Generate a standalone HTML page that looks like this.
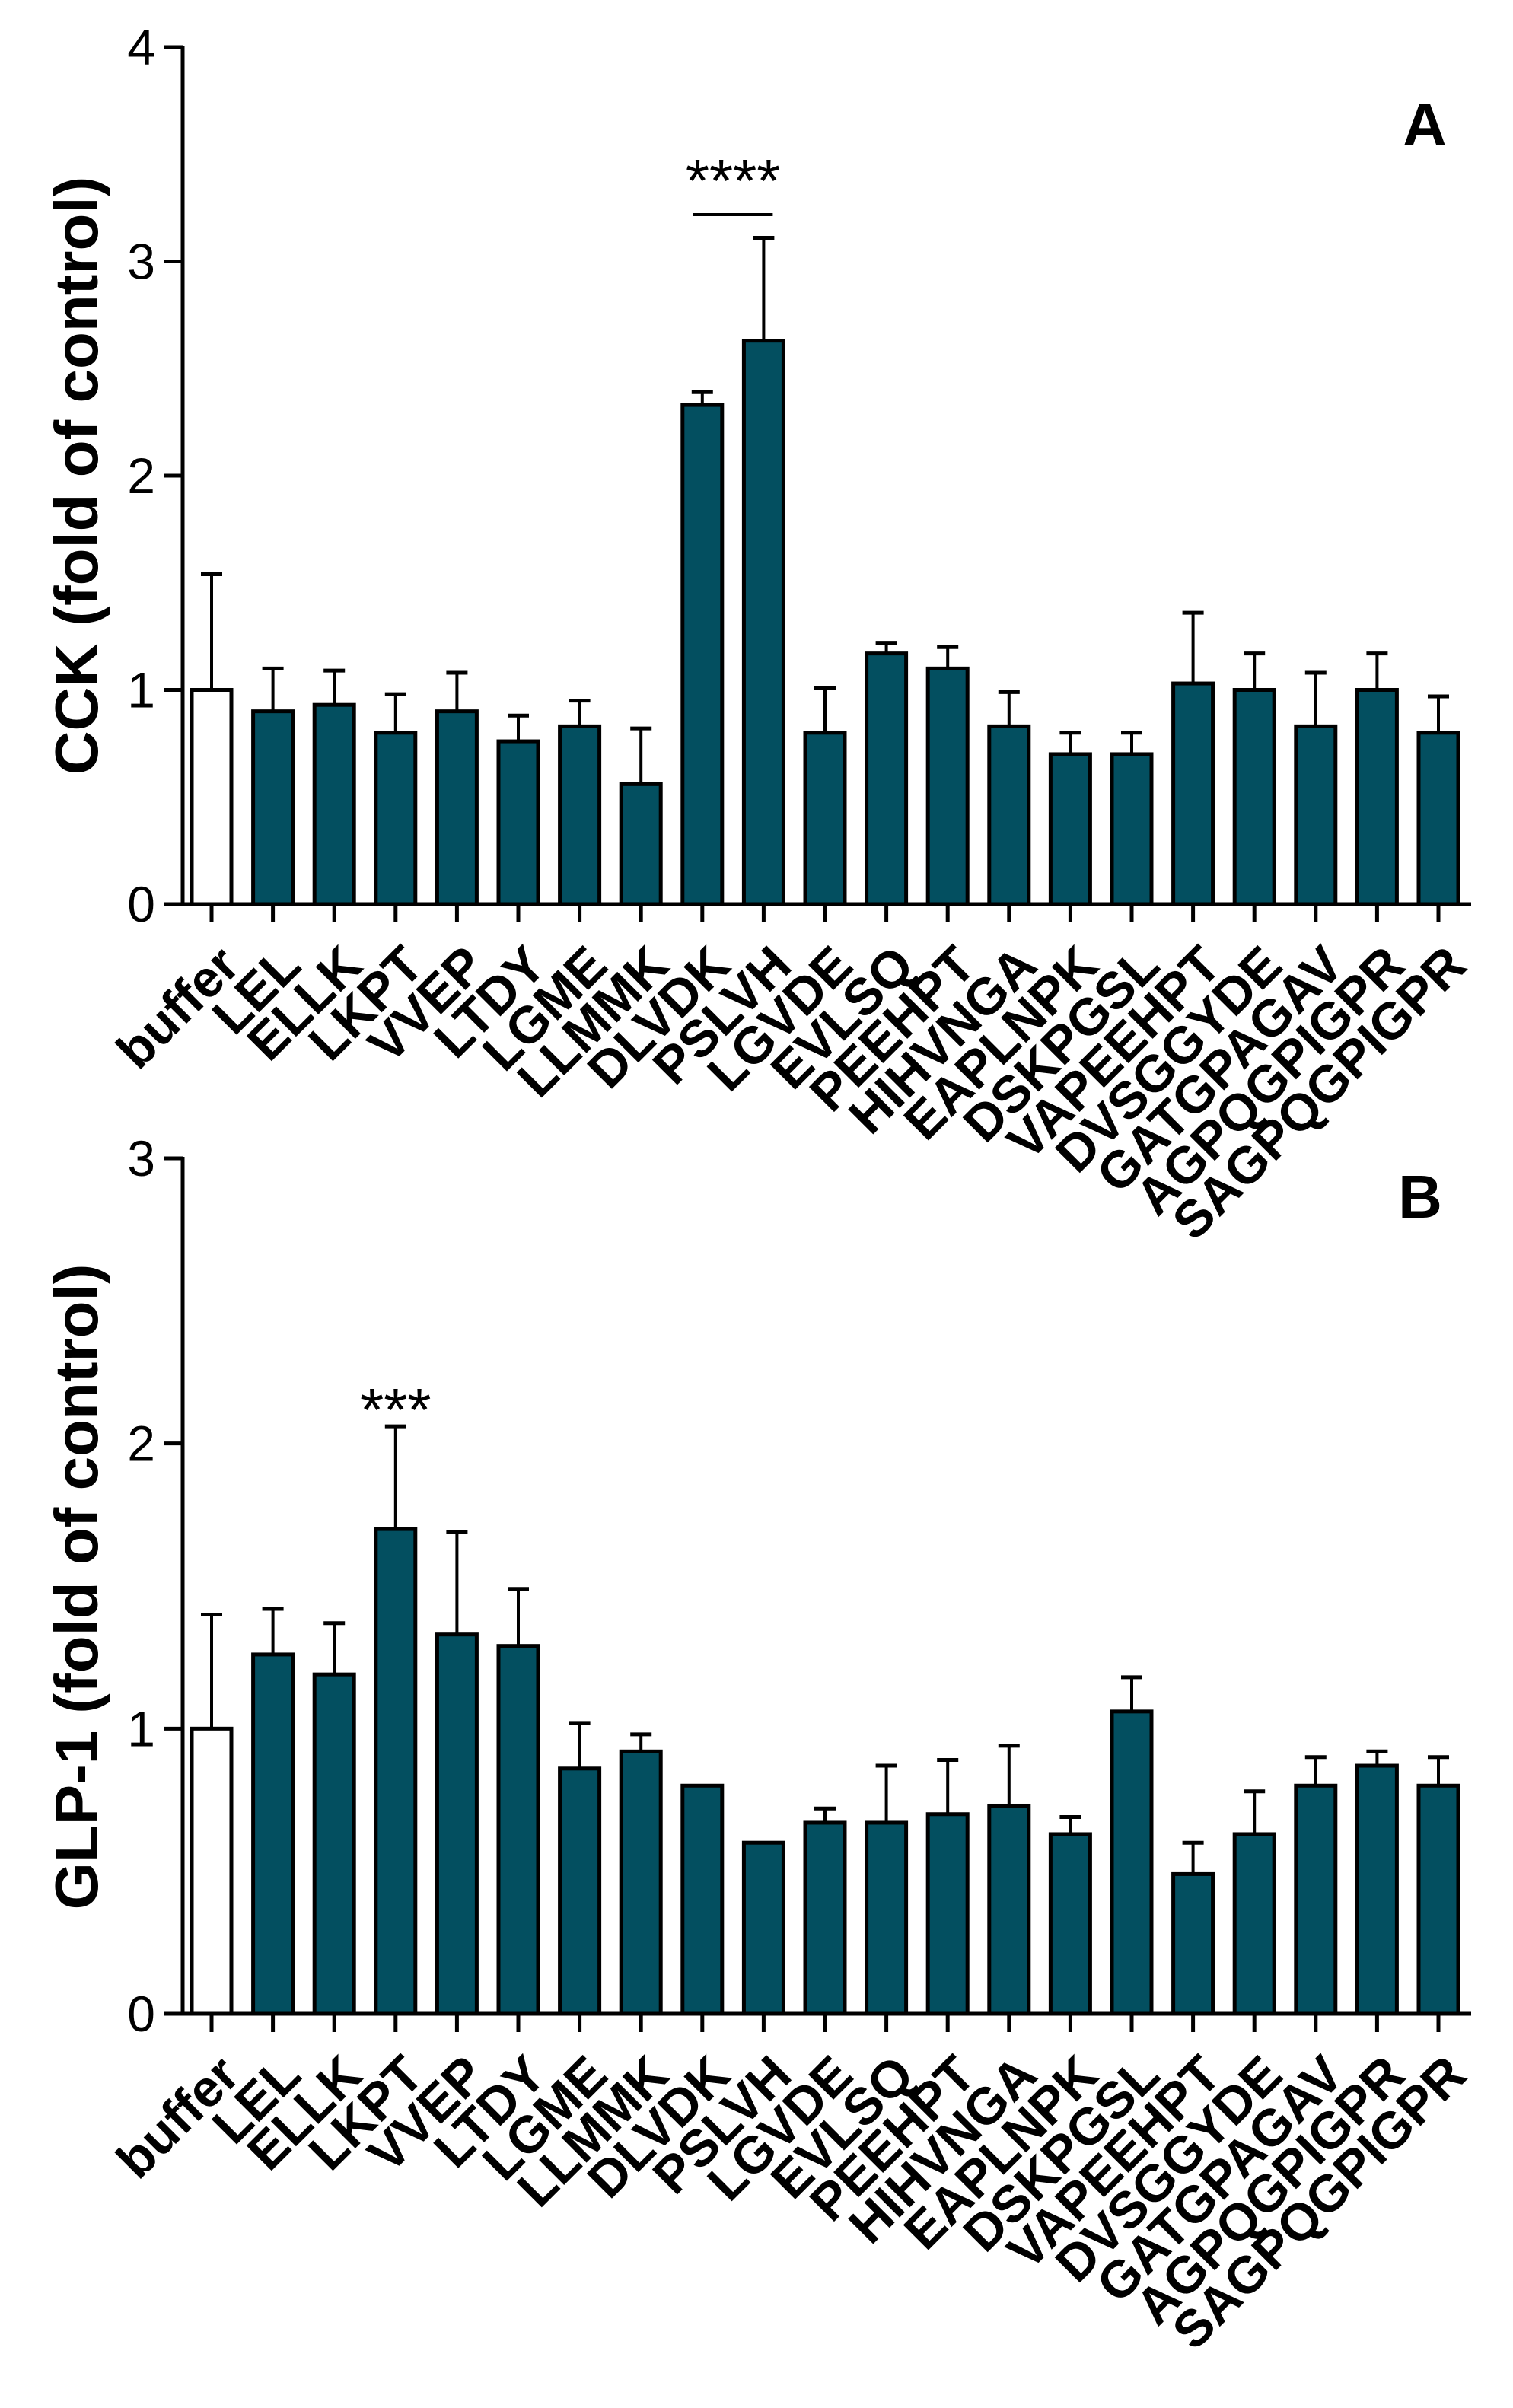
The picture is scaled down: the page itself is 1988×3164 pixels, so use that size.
<!DOCTYPE html>
<html><head><meta charset="utf-8">
<style>
html,body{margin:0;padding:0;background:#fff;}
svg{display:block;font-family:"Liberation Sans",Arial,sans-serif;}
</style></head>
<body>
<svg id="fig" width="1988" height="3164" viewBox="0 0 1988 3164" xmlns="http://www.w3.org/2000/svg"></svg>
<script>
const categories = ["buffer","LEL","ELLK","LKPT","VVEP","LTDY","LGME","LLMMK","DLVDK","PSLVH","LGVDE","EVLSQ","PEEHPT","HIHVNGA","EAPLNPK","DSKPGSL","VAPEEHPT","DVSGGYDE","GATGPAGAV","AGPQGPIGPR","SAGPQGPIGPR"];
const cckMean = [1.0,0.9,0.93,0.8,0.9,0.76,0.83,0.56,2.33,2.63,0.8,1.17,1.1,0.83,0.7,0.7,1.03,1.0,0.83,1.0,0.8];
const cckTop  = [1.54,1.1,1.09,0.98,1.08,0.88,0.95,0.82,2.39,3.11,1.01,1.22,1.2,0.99,0.8,0.8,1.36,1.17,1.08,1.17,0.97];
const glpMean = [1.0,1.26,1.19,1.70,1.33,1.29,0.86,0.92,0.80,0.60,0.67,0.67,0.70,0.73,0.63,1.06,0.49,0.63,0.80,0.87,0.80];
const glpTop  = [1.4,1.42,1.37,2.06,1.69,1.49,1.02,0.98,0.80,0.60,0.72,0.87,0.89,0.94,0.69,1.18,0.60,0.78,0.90,0.92,0.90];
const cckTicks = [0,1,2,3,4];
const glpTicks = [0,1,2,3];

const NS = "http://www.w3.org/2000/svg";
const svg = document.getElementById('fig');
function mk(tag, attrs, parent){
  const e = document.createElementNS(NS, tag);
  for (const k in attrs) e.setAttribute(k, attrs[k]);
  (parent||svg).appendChild(e);
  return e;
}
function panel(p){
  const g = mk('g', {});
  
  
  const x0 = 240, xEnd = 1933, first = 278, step = 80.6, bw = 52;
  const yS = v => p.base - (p.base - p.top) * v / p.max;
  const xS = i => first + i * step;
  categories.forEach((c, i) => {
    const cx = xS(i);
    const m = p.mean[i], t = p.err[i];
    if (t > m) {
      const l = mk('line', {x1:cx, x2:cx, y1:yS(m), y2:yS(t), stroke:'#000','stroke-width':4}, g);
      
      
      const cap = mk('line', {x1:cx-14, x2:cx+14, y1:yS(t), y2:yS(t), stroke:'#000','stroke-width':5}, g);
      
      
    }
    const r = mk('rect', {x:cx-bw/2, y:yS(m), width:bw, height:yS(0)-yS(m), fill: i===0 ? '#fff' : '#034f60', stroke:'#000','stroke-width':5}, g);
    
    
    const tk = mk('line', {x1:cx, x2:cx, y1:p.base, y2:p.base+24, stroke:'#000','stroke-width':5}, g);
    
    
    const lx = cx + 40, ly = p.base + 84;
    const t2 = mk('text', {x:lx, y:ly, 'text-anchor':'end', 'font-size':68, 'font-weight':'bold', transform:`rotate(-45 ${lx} ${ly})`}, g);
    t2.textContent = c;
    
    
  });
  const ya = mk('line', {x1:x0, x2:x0, y1:p.top-2, y2:p.base+2.5, stroke:'#000','stroke-width':5}, g);
  
  
  const xa = mk('line', {x1:x0, x2:xEnd, y1:p.base, y2:p.base, stroke:'#000','stroke-width':5}, g);
  
  
  p.ticks.forEach(v => {
    const y = yS(v);
    const l = mk('line', {x1:x0-24, x2:x0, y1:y, y2:y, stroke:'#000','stroke-width':5}, g);
    
    
    const t = mk('text', {x:x0-36, y:y+23, 'text-anchor':'end', 'font-size':66}, g);
    t.textContent = v;
    
    
  });
  const tt = mk('text', {x:0, y:0, 'text-anchor':'middle', 'font-size':80, 'font-weight':'bold', transform:`translate(128 ${p.titleY}) rotate(-90)`}, g);
  tt.textContent = p.title;
  
  
  const lt = mk('text', {x:p.letterX, y:p.letterY, 'text-anchor':'middle', 'font-size':80, 'font-weight':'bold'}, g);
  lt.textContent = p.letter;
  
  
  return {g, xS, yS};
}
const A = panel({name:'panel-a-cck', mean:cckMean, err:cckTop, max:4, top:62, base:1188, ticks:cckTicks, title:'CCK (fold of control)', titleY:625, letter:'A', letterX:1872, letterY:191});
const B = panel({name:'panel-b-glp1', mean:glpMean, err:glpTop, max:3, top:1522, base:2646, ticks:glpTicks, title:'GLP-1 (fold of control)', titleY:2085, letter:'B', letterX:1866, letterY:1600});

const sl = mk('line', {x1:A.xS(8)-12, x2:A.xS(9)+12, y1:282, y2:282, stroke:'#000','stroke-width':4});


const s1 = mk('text', {x:(A.xS(8)+A.xS(9))/2, y:265, 'text-anchor':'middle', 'font-size':80});
s1.textContent = '****';


const s2 = mk('text', {x:B.xS(3), y:1880, 'text-anchor':'middle', 'font-size':80});
s2.textContent = '***';


</script>
</body></html>
